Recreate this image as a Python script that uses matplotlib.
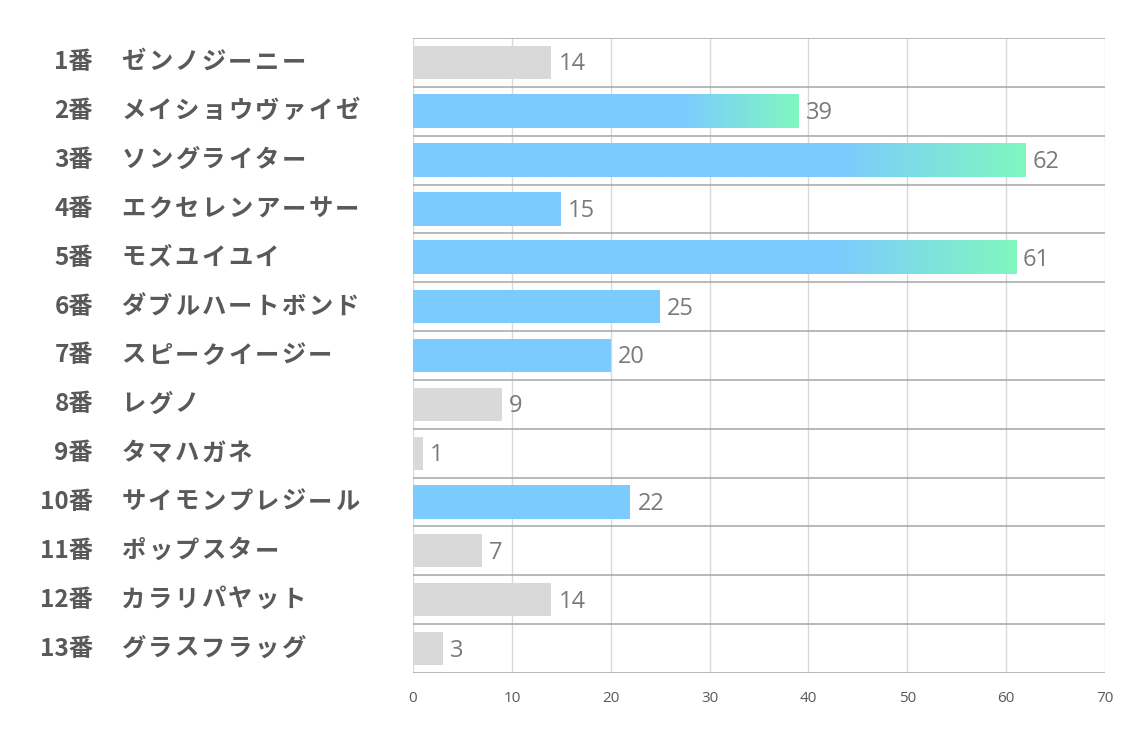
import numpy as np
import matplotlib.pyplot as plt
import matplotlib.transforms as mtransforms
from matplotlib.colors import to_rgb

# data
numbers = ['1番', '2番', '3番', '4番', '5番', '6番', '7番', '8番', '9番', '10番', '11番', '12番', '13番']
names = ['ゼンノジーニー', 'メイショウヴァイゼ', 'ソングライター', 'エクセレンアーサー', 'モズユイユイ',
         'ダブルハートボンド', 'スピークイージー', 'レグノ', 'タマハガネ', 'サイモンプレジール',
         'ポップスター', 'カラリパヤット', 'グラスフラッグ']
values = [14, 39, 62, 15, 61, 25, 20, 9, 1, 22, 7, 14, 3]
picked = [2, 3, 4, 5, 6, 7, 10]   # horse numbers drawn in blue
xticks = [0, 10, 20, 30, 40, 50, 60, 70]

blue = '#7ccbfe'
green = '#80f7bf'
grey_bar = '#d9d9d9'
text_col = '#595959'

plt.rcParams['font.family'] = ['Noto Sans CJK JP', 'DejaVu Sans']

fig = plt.figure(figsize=(11.34, 7.37), dpi=100)
ax = fig.add_axes([413/1134, 1-673/737, (1105-413)/1134, (673-38)/737])

n = len(values)
ypos = np.arange(n)
h = 0.68

top3 = sorted(range(n), key=lambda i: values[i], reverse=True)[:3]

# gradient image: blue then ramp to green over the last part of the bar
t = np.linspace(0, 1, 256)
w = np.clip((t - 0.7) / 0.3, 0, 1)
c1, c2 = np.array(to_rgb(blue)), np.array(to_rgb(green))
grad = (c1[None, :] * (1 - w[:, None]) + c2[None, :] * w[:, None])[None, :, :]

for i, v in enumerate(values):
    num = i + 1
    col = blue if num in picked else grey_bar
    if i in top3:
        ax.imshow(grad, extent=[0, v, i + h/2, i - h/2], aspect='auto', zorder=3, interpolation='bilinear')
    else:
        ax.barh(i, v, height=h, color=col, zorder=3)
    ax.text(v + 0.7, i + 0.04, str(v), va='center', ha='left', fontsize=17, color='#7a7a7a',
            family=['Open Sans', 'DejaVu Sans'], zorder=4)

ax.set_xlim(0, 70)
ax.set_ylim(n - 0.5, -0.5)
ax.set_xticks(xticks)
ax.set_yticks([])
for x in xticks:
    ax.axvline(x, color='#d9d9d9', lw=1, zorder=1)
for y in np.arange(-0.5, n, 1):
    ax.axhline(y, color='#a6a6a6', lw=1.1, zorder=2)
for s in ax.spines.values():
    s.set_visible(False)
ax.tick_params(axis='x', length=0, pad=13, labelsize=11, labelcolor=text_col)
for lab in ax.get_xticklabels():
    lab.set_family(['Open Sans', 'DejaVu Sans'])

# row labels on the left, names set at a fixed character pitch
trans = mtransforms.blended_transform_factory(fig.transFigure, ax.transData)
pitch = 26.7
for i in range(n):
    ax.text(93/1134, i, numbers[i], transform=trans, ha='right', va='center',
            fontsize=17.5, fontweight='bold', color=text_col)
    for k, ch in enumerate(names[i]):
        ax.text((120 + pitch * (k + 0.5)) / 1134, i, ch, transform=trans, ha='center', va='center',
                fontsize=17.5, fontweight='bold', color=text_col)

plt.savefig('out.png', dpi=100)
